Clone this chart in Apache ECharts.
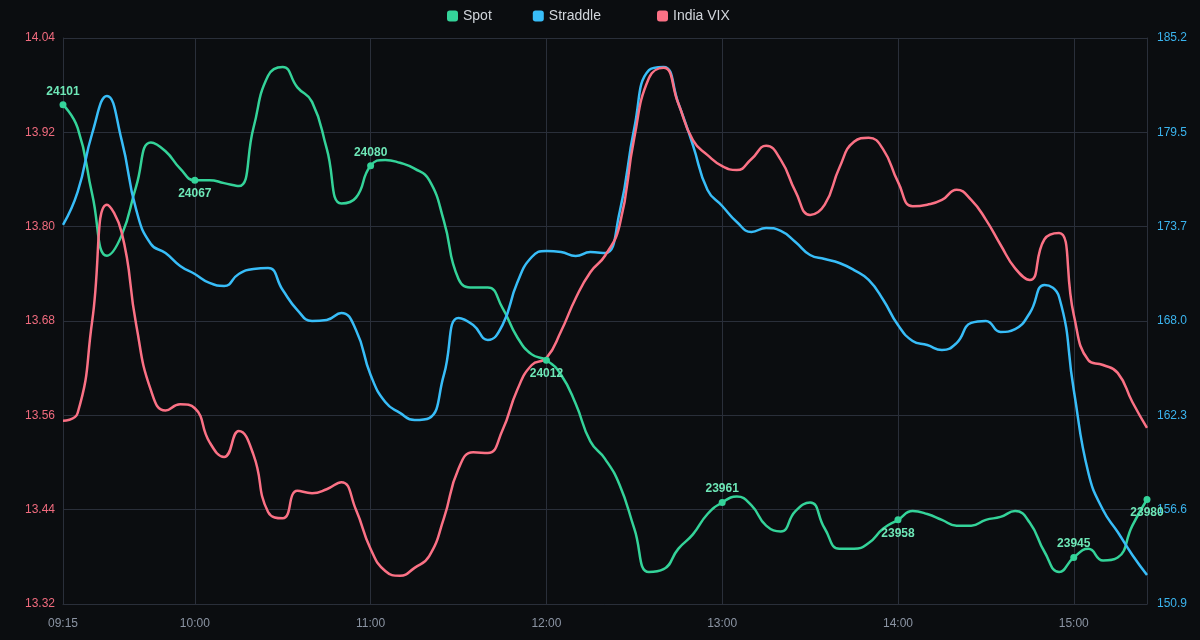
<!DOCTYPE html>
<html>
<head>
<meta charset="utf-8">
<title>Spot / Straddle / India VIX</title>
<script src="https://cdn.jsdelivr.net/npm/echarts@6/dist/echarts.min.js"></script>
<style>
  html, body { margin: 0; padding: 0; background: #0b0d10; }
  #chart { width: 1200px; height: 640px; }
</style>
</head>
<body>
<div id="chart"></div>
<script>
// 5-minute bars, 09:15 -> 15:25
const times = [
  '09:15', '09:20', '09:25', '09:30', '09:35', '09:40', '09:45', '09:50', '09:55',
  '10:00', '10:05', '10:10', '10:15', '10:20', '10:25', '10:30', '10:35', '10:40', '10:45', '10:50', '10:55',
  '11:00', '11:05', '11:10', '11:15', '11:20', '11:25', '11:30', '11:35', '11:40', '11:45', '11:50', '11:55',
  '12:00', '12:05', '12:10', '12:15', '12:20', '12:25', '12:30', '12:35', '12:40', '12:45', '12:50', '12:55',
  '13:00', '13:05', '13:10', '13:15', '13:20', '13:25', '13:30', '13:35', '13:40', '13:45', '13:50', '13:55',
  '14:00', '14:05', '14:10', '14:15', '14:20', '14:25', '14:30', '14:35', '14:40', '14:45', '14:50', '14:55',
  '15:00', '15:05', '15:10', '15:15', '15:20', '15:25'
];

const spot = [
  24102, 24094, 24071, 24050, 24057, 24074, 24089, 24086, 24080, 24076,
  24076, 24075, 24074, 24094, 24112, 24115, 24108, 24103, 24087, 24068,
  24070, 24081, 24083, 24082, 24080, 24076, 24062, 24042, 24039, 24039,
  24032, 24022, 24016, 24014, 24009, 23999, 23986, 23980, 23971, 23956,
  23941, 23942, 23949, 23954, 23961, 23965, 23967, 23964, 23957, 23955,
  23962, 23965, 23956, 23949, 23949, 23951, 23956, 23959, 23962, 23961,
  23959, 23957, 23957, 23959, 23960, 23962, 23958, 23948, 23941, 23946,
  23949, 23945, 23946, 23957, 23966
];

const straddle = [
  173.85, 175.85, 179.42, 181.66, 179.00, 174.76, 172.70, 172.15, 171.37, 170.88,
  170.34, 170.16, 170.88, 171.19, 171.25, 169.91, 168.70, 168.04, 168.10, 168.52,
  167.49, 164.77, 163.13, 162.47, 162.04, 162.16, 164.77, 168.22, 167.79, 166.89,
  167.79, 170.34, 171.91, 172.28, 172.21, 171.97, 172.21, 172.15, 174.64, 179.72,
  183.23, 183.42, 181.24, 178.69, 175.97, 175.00, 174.03, 173.43, 173.67, 173.49,
  172.82, 172.03, 171.79, 171.55, 171.12, 170.52, 169.31, 167.79, 166.83, 166.58,
  166.28, 166.70, 167.92, 168.04, 167.37, 167.55, 168.52, 170.22, 169.49, 163.86,
  158.83, 156.59, 155.26, 153.87, 152.66
];

const vix = [
  13.553, 13.563, 13.681, 13.828, 13.793, 13.675, 13.592, 13.566, 13.574, 13.569,
  13.526, 13.507, 13.540, 13.510, 13.437, 13.429, 13.464, 13.461, 13.466, 13.475,
  13.440, 13.390, 13.362, 13.356, 13.366, 13.381, 13.429, 13.492, 13.513, 13.512,
  13.541, 13.592, 13.624, 13.633, 13.667, 13.709, 13.742, 13.763, 13.802, 13.913,
  13.989, 14.002, 13.957, 13.910, 13.891, 13.877, 13.872, 13.886, 13.903, 13.885,
  13.845, 13.815, 13.828, 13.875, 13.908, 13.913, 13.898, 13.857, 13.826, 13.828,
  13.834, 13.847, 13.834, 13.809, 13.777, 13.747, 13.732, 13.784, 13.792, 13.688,
  13.630, 13.624, 13.614, 13.577, 13.544
];

// spot markers shown on the line
const spotTagIndex = [0, 9, 21, 33, 45, 57, 69, 74];
const spotTags = ['24101', '24067', '24080', '24012', '23961', '23958', '23945', '23980'];

const GREEN = '#34d399';
const BLUE = '#38bdf8';
const RED = '#fb7185';
const GRID = '#2a2f3a';

const chart = echarts.init(document.getElementById('chart'));

const showTime = (i, v) => i === 0 || String(v).endsWith(':00');

const spotData = spot.map((v, i) => {
  const k = spotTagIndex.indexOf(i);
  if (k < 0) return v;
  return {
    value: v,
    symbol: 'circle',
    symbolSize: 7,
    label: {
      show: true,
      position: k % 2 === 0 ? 'top' : 'bottom',
      distance: 4,
      formatter: spotTags[k],
    },
  };
});

const legendBase = {
  top: 4,
  icon: 'roundRect',
  itemWidth: 11,
  itemHeight: 11,
  itemGap: 41,
  textStyle: { color: '#d1d5db', fontSize: 14 },
};

const option = {
  backgroundColor: '#0b0d10',
  animation: false,
  textStyle: { fontFamily: 'Liberation Sans, Arial, sans-serif' },
  legend: [
    { ...legendBase, left: 442, data: ['Spot', 'Straddle'] },
    { ...legendBase, left: 652, data: ['India VIX'] },
  ],
  grid: { left: 63, right: 53, top: 38, bottom: 36 },
  xAxis: {
    type: 'category',
    data: times,
    boundaryGap: false,
    axisLine: { lineStyle: { color: GRID } },
    axisTick: { show: false },
    axisLabel: { color: '#8b94a3', fontSize: 12, margin: 14, interval: showTime },
    splitLine: { show: true, interval: showTime, lineStyle: { color: GRID } },
  },
  yAxis: [
    {
      type: 'value',
      position: 'left',
      min: 13.32,
      max: 14.04,
      interval: 0.12,
      axisLine: { show: true, lineStyle: { color: GRID } },
      axisTick: { show: false },
      axisLabel: { color: '#f06b7e', fontSize: 12, formatter: v => v.toFixed(2) },
      splitLine: { lineStyle: { color: GRID } },
    },
    {
      type: 'value',
      position: 'right',
      min: 150.9,
      max: 185.172,
      alignTicks: true,
      axisLine: { show: true, lineStyle: { color: GRID } },
      axisTick: { show: false },
      axisLabel: { color: '#3bb4ee', fontSize: 12, margin: 10, formatter: v => v.toFixed(1) },
      splitLine: { show: false },
    },
    { type: 'value', show: false, min: 23930, max: 24125 },
  ],
  series: [
    {
      name: 'Spot',
      type: 'line',
      yAxisIndex: 2,
      data: spotData,
      smooth: true,
      symbol: 'none',
      lineStyle: { color: GREEN, width: 2.5 },
      itemStyle: { color: GREEN },
      label: { color: '#6ee7b7', fontSize: 12, fontWeight: 'bold' },
    },
    {
      name: 'Straddle',
      type: 'line',
      yAxisIndex: 1,
      data: straddle,
      smooth: true,
      symbol: 'none',
      lineStyle: { color: BLUE, width: 2.5 },
      itemStyle: { color: BLUE },
    },
    {
      name: 'India VIX',
      type: 'line',
      yAxisIndex: 0,
      data: vix,
      smooth: true,
      symbol: 'none',
      lineStyle: { color: RED, width: 2.5 },
      itemStyle: { color: RED },
    },
  ],
};

chart.setOption(option);
</script>
</body>
</html>
